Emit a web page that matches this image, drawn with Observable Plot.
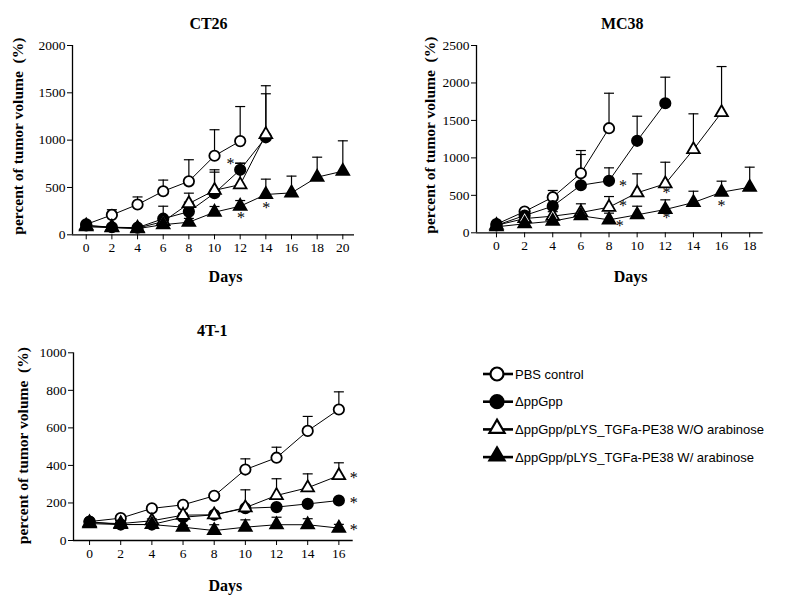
<!DOCTYPE html>
<html><head><meta charset="utf-8">
<script src="https://cdn.jsdelivr.net/npm/d3@7"></script>
<script src="https://cdn.jsdelivr.net/npm/@observablehq/plot@0.6"></script>
<style>
body{margin:0;background:#fff;}
#wrap{position:relative;width:788px;height:600px;background:#fff;overflow:hidden;}
#wrap > div{position:absolute;}
.panel svg{font-family:'Liberation Serif','Times New Roman',serif !important;font-size:13.5px !important;}
.panel svg text{font-family:'Liberation Serif','Times New Roman',serif !important;}
</style></head><body><div id="wrap"></div>
<script>
// ---------- data ----------
const seriesNames = ["PBS control", "ΔppGpp", "ΔppGpp/pLYS_TGFa-PE38 W/O arabinose", "ΔppGpp/pLYS_TGFa-PE38 W/ arabinose"];
const panelTitles = ["CT26", "MC38", "4T-1"];
const yLabel = "percent of tumor volume  (%)";
const xLabel = "Days";

// CT26
const ct26Days = [0, 2, 4, 6, 8, 10, 12, 14, 16, 18, 20];
const ct26YTicks = [0, 500, 1000, 1500, 2000];
const ct26PBS = [110, 210, 320, 460, 565, 835, 990];
const ct26PBSErr = [10, 55, 80, 118, 228, 275, 365];
const ct26Ppgpp = [100, 80, 75, 170, 245, 440, 687, 1030];
const ct26PpgppErr = [10, 10, 10, 132, 100, 222, 70, 460];
const ct26WithoutAra = [95, 80, 70, 140, 330, 470, 530, 1060];
const ct26WithoutAraErr = [10, 10, 10, 40, 110, 217, 225, 515];
const ct26WithAra = [85, 75, 65, 107, 133, 239, 302, 426, 443, 609, 672];
const ct26WithAraErr = [10, 10, 10, 30, 40, 60, 60, 162, 177, 211, 321];
const ct26StarDays = [11.25, 12.07, 14.03];
const ct26StarValues = [775, 204, 310];

// MC38
const mc38Days = [0, 2, 4, 6, 8, 10, 12, 14, 16, 18];
const mc38YTicks = [0, 500, 1000, 1500, 2000, 2500];
const mc38PBS = [115, 284, 475, 795, 1396];
const mc38PBSErr = [10, 20, 90, 303, 467];
const mc38Ppgpp = [100, 231, 355, 635, 694, 1228, 1729];
const mc38PpgppErr = [10, 20, 40, 410, 173, 328, 348];
const mc38WithoutAra = [100, 190, 222, 271, 342, 534, 654, 1111, 1605];
const mc38WithoutAraErr = [10, 20, 60, 116, 142, 253, 288, 477, 614];
const mc38WithAra = [80, 120, 155, 227, 173, 240, 311, 404, 542, 608];
const mc38WithAraErr = [10, 15, 20, 30, 89, 115, 129, 151, 147, 268];
const mc38StarDays = [9.0, 9.0, 8.77, 12.08, 12.08, 16.0];
const mc38StarValues = [654, 387, 120, 564, 231, 387];

// 4T-1
const t41Days = [0, 2, 4, 6, 8, 10, 12, 14, 16];
const t41YTicks = [0, 200, 400, 600, 800, 1000];
const t41PBS = [101, 119, 171, 190, 238, 378, 441, 584, 698];
const t41PBSErr = [5, 10, 10, 10, 10, 57, 56, 77, 94];
const t41Ppgpp = [100, 85, 85, 124, 137, 172, 178, 195, 213];
const t41PpgppErr = [5, 5, 5, 10, 10, 10, 10, 10, 10];
const t41WithoutAra = [95, 90, 105, 135, 137, 175, 240, 281, 346];
const t41WithoutAraErr = [5, 5, 10, 10, 10, 95, 89, 74, 68];
const t41WithAra = [90, 85, 85, 71, 53, 71, 84, 84, 66];
const t41WithAraErr = [5, 5, 5, 10, 31, 39, 40, 32, 20];
const t41StarDays = [16.96, 16.96, 16.96];
const t41StarValues = [343, 213, 68];

// ---------- helpers ----------
const serif = "Liberation Serif";
const markerSpec = [
  {symbol: "circle", fill: "white", r: 5.2},
  {symbol: "circle", fill: "black", r: 5.2},
  {symbol: "triangle", fill: "white", r: 4.7},
  {symbol: "triangle", fill: "black", r: 4.7}
];
const capSymbol = {draw(ctx, size) { const w = Math.sqrt(size / Math.PI); ctx.moveTo(-w, 0); ctx.lineTo(w, 0); }};

function buildRows(days, valueLists, errLists) {
  const rows = [];
  valueLists.forEach((vals, s) => {
    vals.forEach((v, i) => rows.push({series: seriesNames[s], s, day: days[i], value: v, upper: v + errLists[s][i]}));
  });
  return rows;
}

function makePanel(cfg) {
  const rows = buildRows(cfg.days, cfg.values, cfg.errs);
  const stars = cfg.starDays.map((d, i) => ({day: d, value: cfg.starValues[i]}));
  const marks = [
    Plot.ruleY([0], {stroke: "black", strokeWidth: 1.3}),
    Plot.ruleX([cfg.xDomain[0]], {stroke: "black", strokeWidth: 1.3}),
    Plot.ruleX(rows, {x: "day", y1: "value", y2: "upper", stroke: "black", strokeWidth: 1.2}),
    Plot.dot(rows, {x: "day", y: "upper", symbol: capSymbol, r: 5, fill: "none", stroke: "black", strokeWidth: 1.2}),
    Plot.line(rows, {x: "day", y: "value", z: "series", stroke: "black", strokeWidth: 1}),
  ];
  markerSpec.forEach((m, s) => {
    marks.push(Plot.dot(rows.filter(d => d.s === s), {x: "day", y: "value", symbol: m.symbol, r: m.r, fill: m.fill, stroke: "black", strokeWidth: 1.8}));
  });
  marks.push(Plot.text(stars, {x: "day", y: "value", text: () => "*", fontSize: 16, fill: "black", dy: 2}));
  marks.push(Plot.text([cfg.title], {frameAnchor: "top", textAnchor: "middle", lineAnchor: "middle", dx: cfg.titleDx, dy: cfg.titleDy, fontSize: 16, fontWeight: "bold", fill: "black"}));
  marks.push(Plot.text([xLabel], {frameAnchor: "bottom", textAnchor: "middle", lineAnchor: "middle", dx: cfg.xlabDx, dy: cfg.xlabDy, fontSize: 16, fontWeight: "bold", fill: "black"}));
  marks.push(Plot.text([yLabel], {frameAnchor: "left", textAnchor: "middle", lineAnchor: "middle", rotate: -90, dx: cfg.ylabDx, dy: cfg.ylabDy, fontSize: 15.5, fontWeight: "bold", fill: "black"}));
  const chart = Plot.plot({
    width: cfg.width, height: cfg.height,
    marginLeft: cfg.ml, marginRight: cfg.mr, marginTop: cfg.mt, marginBottom: cfg.mb,
    style: {fontFamily: serif, fontSize: "13.5px", color: "black", background: "white", overflow: "visible"},
    x: {domain: cfg.xDomain, ticks: cfg.days, tickSize: 5, tickPadding: 3, label: null, tickFormat: d => String(d)},
    y: {domain: cfg.yDomain, ticks: cfg.yTicks, tickSize: 5, tickPadding: 2, label: null, tickFormat: d => String(d)},
    marks
  });
  d3.select(chart).selectAll("[aria-label^='x-axis'], [aria-label^='y-axis']").selectAll("line, path").attr("stroke", "black");
  const div = document.createElement("div");
  div.className = "panel";
  div.style.left = cfg.left + "px";
  div.style.top = cfg.top + "px";
  div.appendChild(chart);
  document.getElementById("wrap").appendChild(div);
}

makePanel({
  title: panelTitles[0], left: 0, top: 0, width: 394, height: 295,
  ml: 72, mr: 40, mt: 45, mb: 60.7,
  xDomain: [-1.07, 20.91], yDomain: [0, 2000], yTicks: ct26YTicks, days: ct26Days,
  values: [ct26PBS, ct26Ppgpp, ct26WithoutAra, ct26WithAra],
  errs: [ct26PBSErr, ct26PpgppErr, ct26WithoutAraErr, ct26WithAraErr],
  starDays: ct26StarDays, starValues: ct26StarValues,
  titleDx: -5, titleDy: -22, xlabDx: 12, xlabDy: 42, ylabDx: -54, ylabDy: -4
});
makePanel({
  title: panelTitles[1], left: 394, top: 0, width: 394, height: 295,
  ml: 82, mr: 25.3, mt: 45, mb: 62.7,
  xDomain: [-1.42, 18.96], yDomain: [0, 2500], yTicks: mc38YTicks, days: mc38Days,
  values: [mc38PBS, mc38Ppgpp, mc38WithoutAra, mc38WithAra],
  errs: [mc38PBSErr, mc38PpgppErr, mc38WithoutAraErr, mc38WithAraErr],
  starDays: mc38StarDays, starValues: mc38StarValues,
  titleDx: 2.4, titleDy: -22, xlabDx: 10.7, xlabDy: 43.7, ylabDx: -46, ylabDy: -4
});
makePanel({
  title: panelTitles[2], left: 0, top: 295, width: 394, height: 305,
  ml: 73, mr: 41.3, mt: 57.3, mb: 60,
  xDomain: [-1.03, 16.92], yDomain: [0, 1000], yTicks: t41YTicks, days: t41Days,
  values: [t41PBS, t41Ppgpp, t41WithoutAra, t41WithAra],
  errs: [t41PBSErr, t41PpgppErr, t41WithoutAraErr, t41WithAraErr],
  starDays: t41StarDays, starValues: t41StarValues,
  titleDx: -1, titleDy: -22, xlabDx: 12, xlabDy: 45, ylabDx: -50, ylabDy: -1
});

// ---------- legend ----------
(function legend() {
  const div = document.createElement("div");
  div.style.left = "460px"; div.style.top = "350px";
  document.getElementById("wrap").appendChild(div);
  const svg = d3.select(div).append("svg").attr("width", 328).attr("height", 130);
  const rowH = 27.7, y0 = 24;
  seriesNames.forEach((name, i) => {
    const g = svg.append("g").attr("transform", `translate(0,${y0 + i * rowH})`);
    g.append("line").attr("x1", 23).attr("x2", 53).attr("stroke", "black").attr("stroke-width", 2.6);
    const m = markerSpec[i];
    if (m.symbol === "circle") {
      g.append("circle").attr("cx", 37).attr("r", 6.5).attr("fill", m.fill).attr("stroke", "black").attr("stroke-width", 2.2);
    } else {
      g.append("path").attr("transform", "translate(37,-1)").attr("d", d3.symbol(d3.symbolTriangle, 100)())
        .attr("fill", m.fill).attr("stroke", "black").attr("stroke-width", 2.2);
    }
    g.append("text").attr("x", 55).attr("dy", "0.35em").attr("fill", "black")
      .style("font-family", "'Liberation Sans', Arial, sans-serif").style("font-size", "13px").text(name);
  });
})();
</script></body></html>
